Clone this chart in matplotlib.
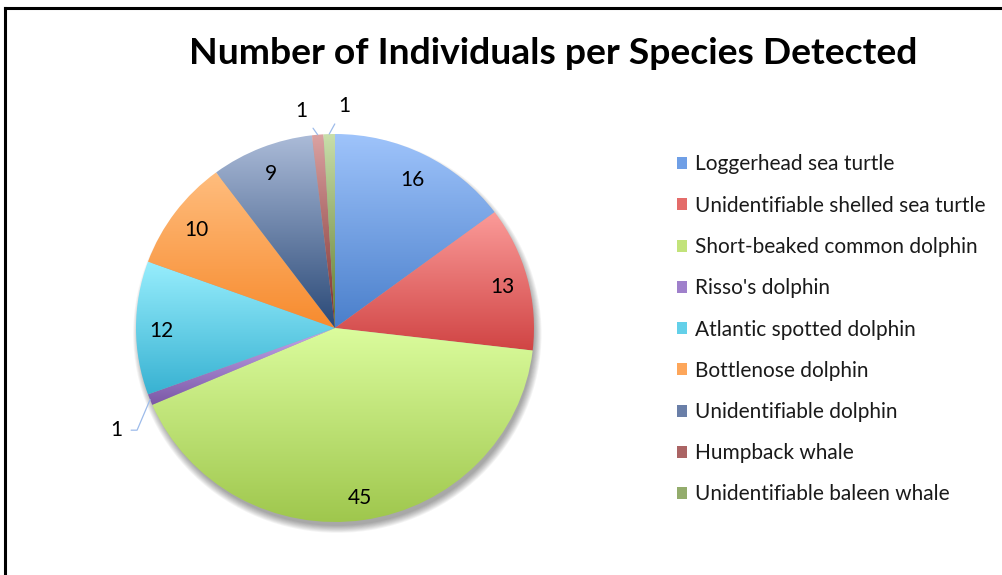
import numpy as np
import matplotlib.pyplot as plt
from matplotlib.colors import to_rgb
from matplotlib.patches import Patch, Ellipse
from matplotlib.lines import Line2D

# datos
species = ['Loggerhead sea turtle', 'Unidentifiable shelled sea turtle',
           'Short-beaked common dolphin', "Risso's dolphin",
           'Atlantic spotted dolphin', 'Bottlenose dolphin',
           'Unidentifiable dolphin', 'Humpback whale',
           'Unidentifiable baleen whale']
counts = [16, 13, 45, 1, 12, 10, 9, 1, 1]

# colores con degradado (arriba claro, abajo oscuro)
top_colors = ['#9fc4fb', '#fb9b99', '#dbfc9d', '#c4a6ec', '#98eefd',
              '#ffbd7e', '#abbbd8', '#dba2a2', '#c9dfab']
bottom_colors = ['#4a7fcb', '#d04444', '#9fc74d', '#7b58a6', '#38b2d2',
                 '#f78b2e', '#2a4977', '#7a2d2b', '#5e7a2f']
legend_colors = ['#6f9fe6', '#e46c6a', '#c2e37a', '#9f80cb', '#63d0e9',
                 '#fda65a', '#6a7fa8', '#ab6464', '#93ac6c']

# etiquetas de 1 fuera del pastel (desplazamiento en puntos)
outside_offsets = {3: (-24, -22), 7: (-12, 17), 8: (11, 20)}

plt.rcParams['font.family'] = ['Lato', 'DejaVu Sans']
text_color = '#000000'
leader_color = '#9dbbea'

fig = plt.figure(figsize=(10.03, 5.75), dpi=100, facecolor='white')

# ejes del pastel: centro (335, 328) px, radio 199 x 194 px
rx, ry, cx, cy, lim = 199, 194, 335, 328, 1.2
ax = fig.add_axes([(cx - lim * rx) / 1003, (575 - cy - lim * ry) / 575,
                   2 * lim * rx / 1003, 2 * lim * ry / 575])

# sombra suave abajo a la derecha
for k in range(9):
    ax.add_patch(Ellipse((0.012, -0.03), 2 * (0.99 + 0.0045 * k), 2 * (0.99 + 0.0045 * k),
                         facecolor='#000000', edgecolor='none', alpha=0.045, zorder=0))

wedges, _ = ax.pie(counts, startangle=90, counterclock=False, radius=1,
                   wedgeprops=dict(linewidth=0, facecolor='none'))

t = np.linspace(0, 1, 256)[:, None]
for w, c_top, c_bot in zip(wedges, top_colors, bottom_colors):
    bb = w.get_path().get_extents()
    grad = (1 - t) * np.array(to_rgb(c_bot)) + t * np.array(to_rgb(c_top))
    im = ax.imshow(grad[:, None, :], extent=[bb.x0, bb.x1, bb.y0, bb.y1],
                   origin='lower', aspect='auto', interpolation='bilinear', zorder=2)
    im.set_clip_path(w)

for i, (w, v) in enumerate(zip(wedges, counts)):
    mid = np.deg2rad((w.theta1 + w.theta2) / 2)
    if i in outside_offsets:
        ax.annotate(str(v), xy=(np.cos(mid), np.sin(mid)), xytext=outside_offsets[i],
                    textcoords='offset points', ha='center', va='center',
                    fontsize=15, color=text_color, zorder=5,
                    arrowprops=dict(arrowstyle='-', color=leader_color, lw=0.9,
                                    shrinkA=4, shrinkB=0,
                                    connectionstyle='angle,angleA=0,angleB=67'
                                    if i == 3 else 'arc3'))
    else:
        ax.text(0.87 * np.cos(mid), 0.87 * np.sin(mid) - 0.015, str(v), ha='center',
                va='center', fontsize=15, color=text_color, zorder=5)

ax.set_aspect('auto')
ax.set_xlim(-lim, lim)
ax.set_ylim(-lim, lim)
ax.axis('off')

# titulo
fig.text(0.552, 1 - 64.5 / 575, 'Number of Individuals per Species Detected',
         ha='center', va='baseline', fontsize=26.8, fontweight='bold', color=text_color)

# leyenda
handles = [Patch(facecolor=c, edgecolor='none') for c in legend_colors]
fig.legend(handles, species, loc='upper left', bbox_to_anchor=(677 / 1003, 1 - 154.5 / 575),
           frameon=False, fontsize=15, handlelength=0.5, handleheight=0.5,
           handletextpad=0.35, labelspacing=1.02, borderpad=0, borderaxespad=0,
           labelcolor='#1a1a1a')

# marco
fig.add_artist(Line2D([5 / 1003, 5 / 1003], [0, 1 - 8 / 575], color='black', lw=2.2))
fig.add_artist(Line2D([5 / 1003, 1], [1 - 8 / 575, 1 - 8 / 575], color='black', lw=2.2))

plt.savefig('out.png', dpi=100, facecolor='white')
plt.close()
